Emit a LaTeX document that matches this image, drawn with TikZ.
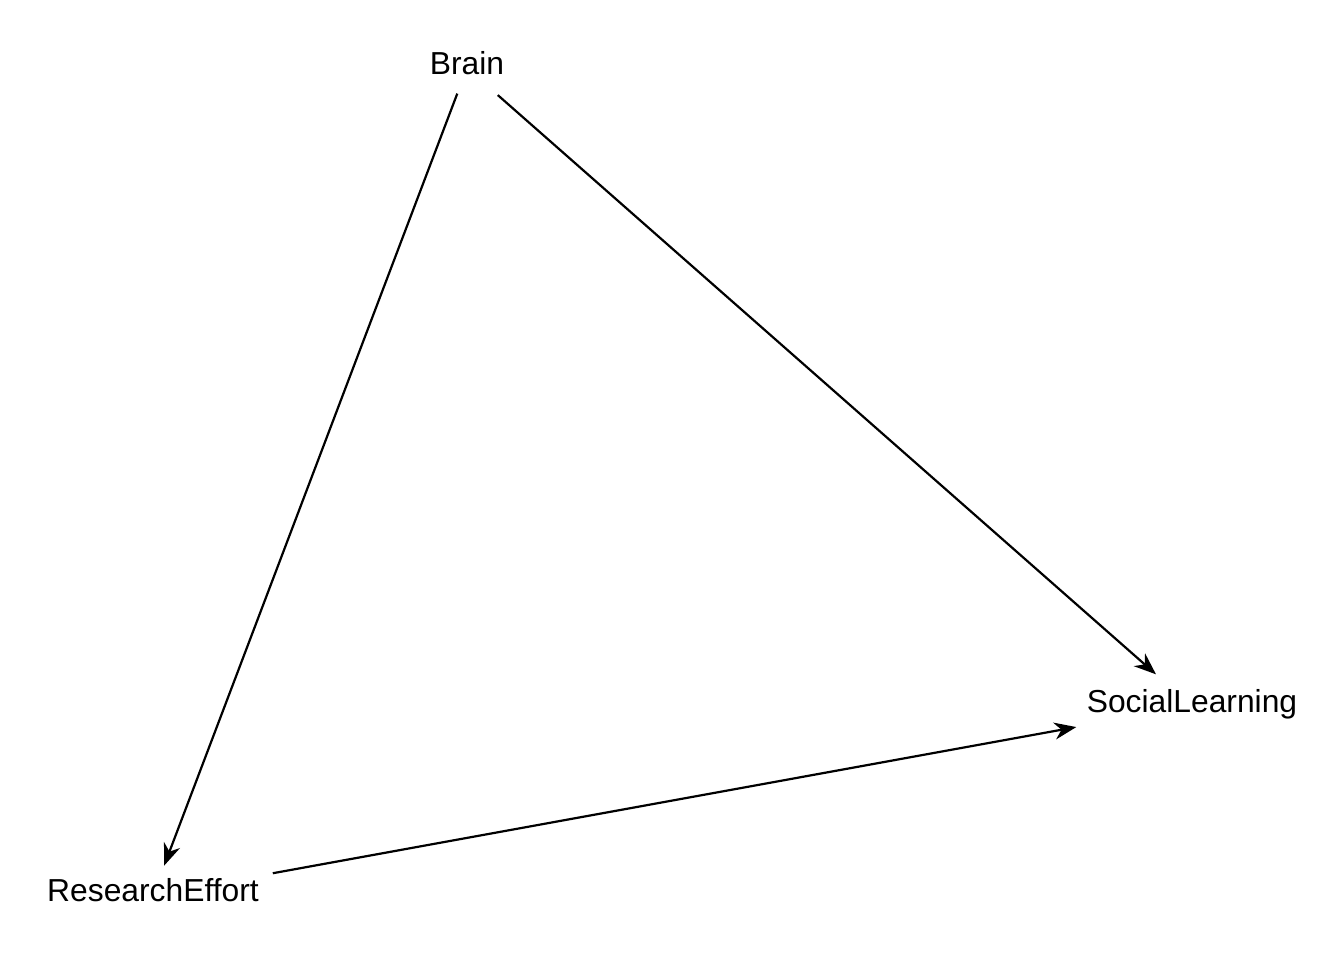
\documentclass[tikz,border=0pt]{standalone}
\usepackage{fontspec}
\setmainfont{Liberation Sans}
\usetikzlibrary{arrows.meta}

\begin{document}
\begin{tikzpicture}[
    x = 0.5pt, y = -0.5pt,
    var/.style  = {font=\fontsize{15.9pt}{18pt}\selectfont, inner sep=0pt,
                   text height=11pt, text depth=5pt},
    edge/.style = {-{Stealth[length=11pt, width=8.5pt, inset=3.5pt]}, line width=1.1pt},
]
\useasboundingbox (0,0) rectangle (1344,960);

% --------------------------------------------- variables ---------------------------------------------
\node[var] (brain) at (467,68)  {Brain};
\node[var] (soc)   at (1192,706) {SocialLearning};
\node[var] (eff)   at (153,895) {ResearchEffort};

% ---------------------------------------------- arrows -----------------------------------------------
\draw[edge, shorten <=13.7pt, shorten >=15.7pt] (brain.center) -- (eff.center);
\draw[edge, shorten <=20.5pt, shorten >=24pt] (brain.center) -- (soc.center);
\draw[edge, shorten <=60.9pt, shorten >=58.8pt] (eff.center) -- (soc.center);

\end{tikzpicture}
\end{document}
